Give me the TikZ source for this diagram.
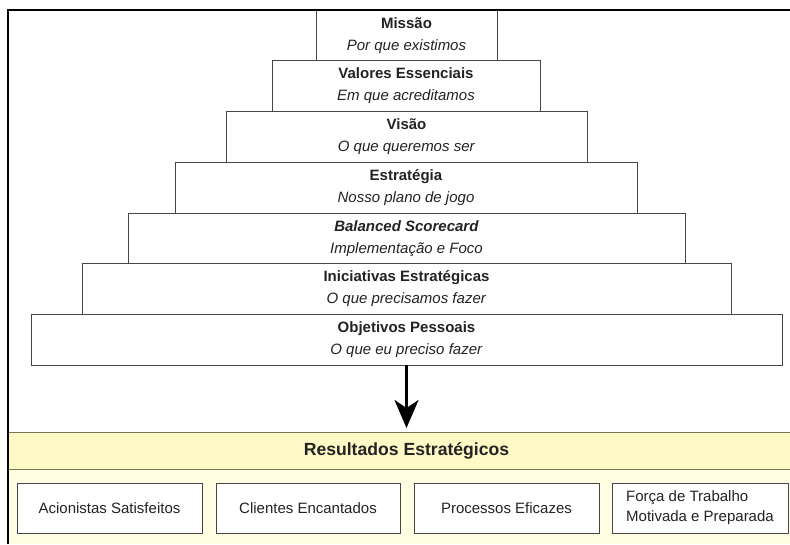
\documentclass[tikz,border=0pt]{standalone}
\usepackage{fontspec}
\setmainfont{Liberation Sans}
\usetikzlibrary{arrows.meta}
\definecolor{bandfill}{RGB}{255,249,198}
\definecolor{lowfill}{RGB}{255,253,226}
\definecolor{bandline}{RGB}{120,118,90}
\definecolor{boxline}{RGB}{70,70,70}
\definecolor{txt}{RGB}{35,35,35}
\tikzset{
  lvl/.style={draw=boxline, line width=0.9pt, fill=white, minimum height=51pt, inner sep=0pt,
    align=center, text=txt, font=\fontsize{15}{22}\selectfont},
  resbox/.style={draw=boxline, line width=0.9pt, fill=white, minimum height=50pt, inner sep=0pt,
    text=txt, font=\fontsize{15}{20}\selectfont},
  frameline/.style={line width=2pt, black},
}
\begin{document}
\begin{tikzpicture}[x=1pt,y=-1pt]
\useasboundingbox (0,0) rectangle (790,544);
\fill[white] (0,0) rectangle (790,544);
% result area
\fill[lowfill] (8,469) rectangle (790,544);
\fill[bandfill] (8,432) rectangle (790,469);
\draw[bandline, line width=1pt] (8,432) -- (790,432);
\draw[bandline, line width=1pt] (8,469) -- (790,469);
\node[text=txt, font=\fontsize{17.6}{20}\selectfont\bfseries] (res) at (406.5,450.5) {Resultados Estratégicos};
% pyramid
\node[lvl, minimum width=181pt] (l1) at (406.5,35.5) {\textbf{Missão}\\\textit{Por que existimos}};
\node[lvl, minimum width=268pt] (l2) at (406,86) {\textbf{Valores Essenciais}\\\textit{Em que acreditamos}};
\node[lvl, minimum width=361pt] (l3) at (406.5,136.5) {\textbf{Visão}\\\textit{O que queremos ser}};
\node[lvl, minimum width=462pt] (l4) at (406,187.5) {\textbf{Estratégia}\\\textit{Nosso plano de jogo}};
\node[lvl, minimum width=557pt] (l5) at (406.5,238.5) {\textbf{\textit{Balanced Scorecard}}\\\textit{Implementação e Foco}};
\node[lvl, minimum width=649pt] (l6) at (406.5,289) {\textbf{Iniciativas Estratégicas}\\\textit{O que precisamos fazer}};
\node[lvl, minimum width=751pt] (l7) at (406.5,339.5) {\textbf{Objetivos Pessoais}\\\textit{O que eu preciso fazer}};
% arrow
\coordinate (tip) at (406.5,428);
\draw[line width=3pt, -{Stealth[length=28pt,width=24pt,inset=8pt]}] (l7.south) -- (tip);
% result boxes
\node[resbox, minimum width=185pt] (r1) at (109.5,508) {Acionistas Satisfeitos};
\node[resbox, minimum width=184pt] (r2) at (308,508) {Clientes Encantados};
\node[resbox, minimum width=185pt] (r3) at (506.5,508) {Processos Eficazes};
\node[resbox, minimum width=176pt, align=left] (r4) at (700,508) {Força de Trabalho\\Motivada e Preparada};
% outer frame
\draw[frameline] (8,544) -- (8,10) -- (790,10);
\end{tikzpicture}
\end{document}
